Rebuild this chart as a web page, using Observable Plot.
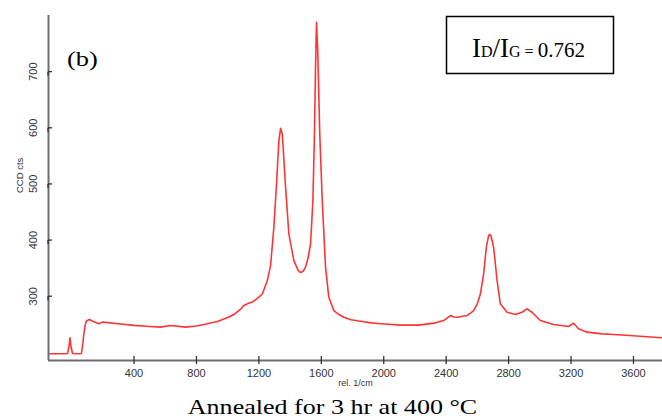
<!DOCTYPE html>
<html>
<head>
<meta charset="utf-8">
<script src="https://cdn.jsdelivr.net/npm/d3@7"></script>
<script src="https://cdn.jsdelivr.net/npm/@observablehq/plot@0.6"></script>
<style>
  html, body { margin: 0; padding: 0; background: #fff; }
  #chart { position: relative; width: 662px; height: 418px; overflow: hidden; }
</style>
</head>
<body>
<div id="chart"></div>
<script>
// Raman shift (rel. 1/cm) and intensity (CCD cts)
const shift = [
  -148, -60, -26, -16, -10, -4, 6, 40, 63, 72, 78, 88, 95, 112, 140, 174, 200, 230, 300, 400,
  500, 570, 635, 731, 800, 848, 934, 1000, 1040, 1080, 1104, 1130, 1158, 1190, 1222, 1254, 1275,
  1296, 1313, 1328, 1339, 1350, 1371, 1392, 1424, 1450, 1467, 1485, 1499, 1515, 1531, 1546, 1556,
  1563, 1569, 1577, 1590, 1606, 1627, 1648, 1680, 1710, 1744, 1790, 1851, 1920, 1979, 2050, 2107,
  2224, 2320, 2384, 2410, 2427, 2450, 2470, 2534, 2576, 2600, 2619, 2640, 2657, 2672, 2680, 2687,
  2704, 2726, 2747, 2790, 2843, 2886, 2918, 2950, 3003, 3088, 3184, 3216, 3248, 3302, 3400, 3472,
  3550, 3643, 3781
];
const counts = [
  197.5, 197.5, 198, 212, 226, 210, 198, 197.5, 198, 215, 232, 250, 256, 258.5, 255, 251, 254, 253, 251, 248,
  246, 245, 247.8, 245, 247, 249.6, 255, 262, 267.4, 276, 283.4, 287, 289.5, 296, 304, 328, 355,
  423, 500, 577, 599, 589, 494, 411, 363.5, 347, 342, 345, 352, 368, 393, 470, 589,
  708, 788, 737, 589, 470, 352, 298, 274.5, 268, 262.6, 258, 255.5, 252.5, 251, 249.5, 248.5,
  248.5, 252, 256.7, 262, 265.6, 263, 262.6, 265.6, 274.5, 287, 304, 340, 387, 408, 410, 408,
  387, 328, 286.5, 271.5, 267.4, 271.5, 277.6, 271.5, 256.7, 249.6, 246, 252, 242, 236, 233, 231.8,
  230.5, 228.8, 226
];
const xTicks = [400, 800, 1200, 1600, 2000, 2400, 2800, 3200, 3600];
const yTicks = [300, 400, 500, 600, 700];
const xDomain = [-148, 3786];
const yDomain = [185.5, 800];
const xLabel = "rel. 1/cm";
const yLabel = "CCD cts";
const panelLabel = "(b)";
const caption = "Annealed for 3 hr at 400 °C";
const ratioValue = "0.762";

const data = shift.map((s, i) => ({shift: s, counts: counts[i]}));

const axisColor = "#6e6e6e";
const tickFont = "Liberation Sans, Arial, sans-serif";
const fmt = d3.format("d");

const svg = Plot.plot({
  width: 662,
  height: 418,
  marginTop: 15,
  marginBottom: 58,
  marginLeft: 48,
  marginRight: 0,
  x: {domain: xDomain},
  y: {domain: yDomain},
  style: {fontFamily: tickFont, fontSize: "11px", color: "#333", background: "#fff"},
  marks: [
    Plot.line(data, {x: "shift", y: "counts", stroke: "#ff3535", strokeWidth: 1.6, curve: "linear"}),
    Plot.ruleY([yDomain[0]], {stroke: axisColor, strokeWidth: 2}),
    Plot.ruleX([xDomain[0]], {stroke: axisColor, strokeWidth: 2}),
    Plot.axisX({ticks: xTicks, tickFormat: fmt, tickSize: 4, tickPadding: 5, label: null, stroke: "#333", strokeWidth: 1.3, fontSize: 11}),
    Plot.axisX({ticks: xTicks, tickSize: -4, text: null, label: null, stroke: "#333", strokeWidth: 1.3}),
    Plot.axisY({ticks: yTicks, tickFormat: fmt, tickSize: 4, tickPadding: 11, rotate: -90, textAnchor: "middle", label: null, stroke: "#333", strokeWidth: 1.3, fontSize: 11}),
    Plot.axisY({ticks: yTicks, tickSize: -4, text: null, label: null, stroke: "#333", strokeWidth: 1.3}),
    Plot.text([xLabel], {frameAnchor: "bottom", dy: 25, fontSize: 9, fill: "#333"}),
    Plot.text([yLabel], {frameAnchor: "left", dx: -29, dy: 5, rotate: -90, fontSize: 9.5, fill: "#333"})
  ]
});

const s = d3.select(svg);
const serif = "Liberation Serif, 'Times New Roman', serif";

// panel label
s.append("text")
  .attr("transform", "translate(67,66) scale(1.2,1)")
  .attr("text-anchor", "start")
  .attr("font-family", serif).attr("font-size", 22).attr("fill", "#000")
  .text(panelLabel);

// ID/IG box
s.append("rect")
  .attr("x", 446.5).attr("y", 16.5).attr("width", 167).attr("height", 57)
  .attr("fill", "#fff").attr("stroke", "#000").attr("stroke-width", 1.5);
const t = s.append("text")
  .attr("x", 472).attr("y", 57)
  .attr("text-anchor", "start")
  .attr("font-family", serif).attr("fill", "#000");
t.append("tspan").attr("font-size", 27).text("I");
t.append("tspan").attr("font-size", 16).text("D");
t.append("tspan").attr("font-size", 27).text("/I");
t.append("tspan").attr("font-size", 16).text("G = ");
t.append("tspan").attr("font-size", 21).text(ratioValue);

// caption
s.append("text")
  .attr("transform", "translate(332.5,414) scale(1.24,1)")
  .attr("text-anchor", "middle")
  .attr("font-family", serif).attr("font-size", 21).attr("fill", "#000")
  .text(caption);

document.getElementById("chart").appendChild(svg);
</script>
</body>
</html>
